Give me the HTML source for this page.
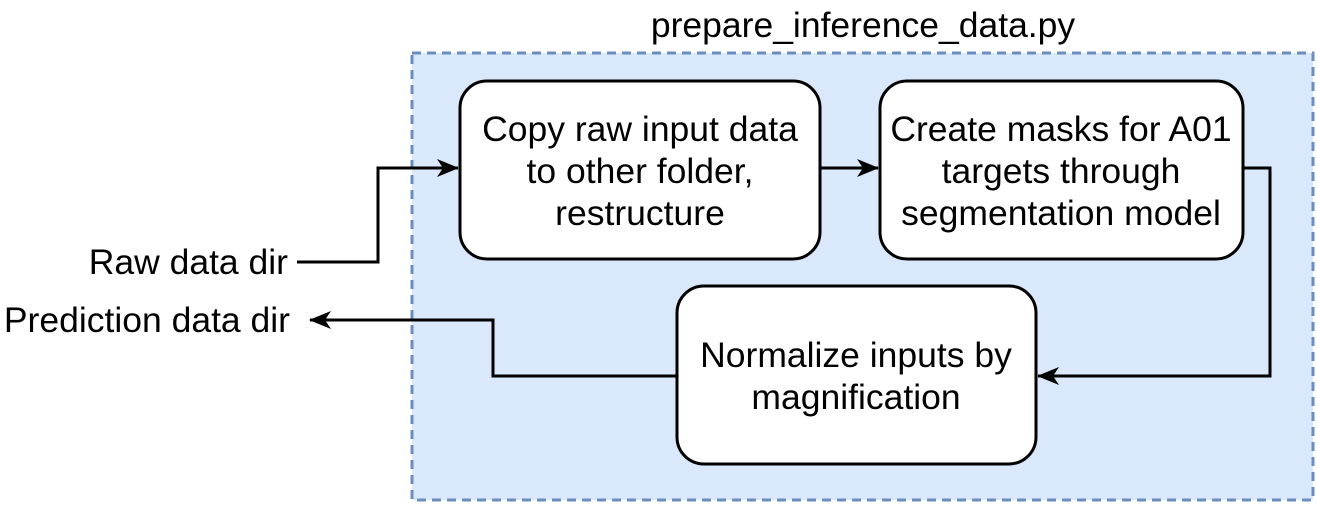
<!DOCTYPE html>
<html><head><meta charset="utf-8"><style>
body{margin:0;background:#fff;width:1317px;height:504px;overflow:hidden}
</style></head><body>
<svg width="1317" height="504" xmlns="http://www.w3.org/2000/svg" font-family="Liberation Sans, Arial, sans-serif" font-size="35.5">
<defs>
<marker id="b" markerWidth="22" markerHeight="18" refX="21" refY="9" orient="auto" markerUnits="userSpaceOnUse"><path d="M0,0 L22,9 L0,18 L6,9 Z" fill="#000"/></marker></defs>
<rect x="412" y="53" width="901" height="447" fill="#dae8fc" stroke="#6c8ebf" stroke-width="3" stroke-dasharray="9,6"/>
<text x="863" y="37" text-anchor="middle">prepare_inference_data.py</text>
<rect x="460" y="81" width="360" height="178" rx="27" fill="#fff" stroke="#000" stroke-width="3"/>
<rect x="880" y="81" width="363" height="178" rx="27" fill="#fff" stroke="#000" stroke-width="3"/>
<rect x="677" y="286" width="359" height="178" rx="27" fill="#fff" stroke="#000" stroke-width="3"/>
<text text-anchor="middle"><tspan x="640" y="141">Copy raw input data</tspan><tspan x="640" y="183">to other folder,</tspan><tspan x="640" y="225">restructure</tspan></text>
<text text-anchor="middle"><tspan x="1061" y="141">Create masks for A01</tspan><tspan x="1061" y="183">targets through</tspan><tspan x="1061" y="225">segmentation model</tspan></text>
<text text-anchor="middle"><tspan x="856" y="367">Normalize inputs by</tspan><tspan x="856" y="409">magnification</tspan></text>
<text x="288" y="274" text-anchor="end">Raw data dir</text>
<text x="290" y="332" text-anchor="end">Prediction data dir</text>
<g fill="none" stroke="#000" stroke-width="3">
<path d="M297,262 H378 V168 H458" marker-end="url(#b)"/>
<path d="M820,168 H878" marker-end="url(#b)"/>
<path d="M1243,168 H1270 V376 H1038" marker-end="url(#b)"/>
<path d="M677,376 H493 V320 H310" marker-end="url(#b)"/>
</g>
</svg>
</body></html>
